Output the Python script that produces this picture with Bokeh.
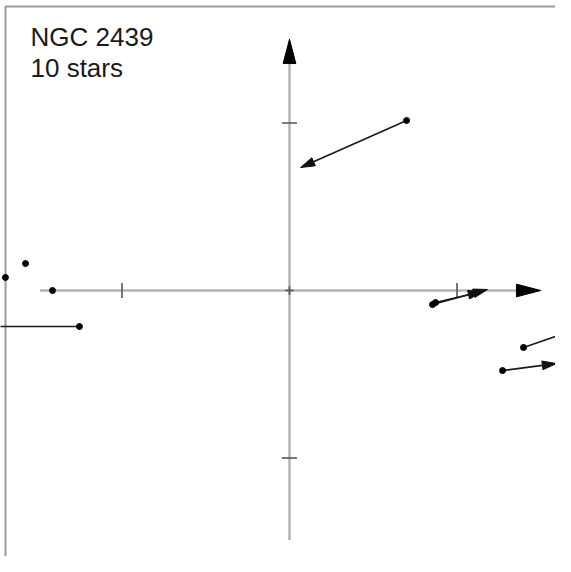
import numpy as np
from bokeh.plotting import figure
from bokeh.models import Range1d, Label
from bokeh.embed import file_html
from bokeh.resources import INLINE

# ---- data ----
title_text = "NGC 2439"
count_text = "10 stars"

# star positions (axis units, ticks at +-1)
star_x = [0.699, -1.696, -1.576, -1.415, -1.254, 0.854, 0.872, 1.397, 1.272]
star_y = [1.015, 0.078, 0.161, 0.000, -0.215, -0.084, -0.072, -0.340, -0.478]
# motion vectors (axis units)
vec_x = [-0.633, 0.0, 0.0, 0.0, -0.750, 0.328, 0.280, 0.310, 0.322]
vec_y = [-0.281, 0.0, 0.0, 0.0, 0.000, 0.090, 0.066, 0.107, 0.042]

tick_vals = [-1, 0, 1]
axis_lo, axis_hi = -1.49, 1.50

# ---- figure ----
unit = 167.5  # pixels per axis unit
cx, cy = 289, 290  # pixel position of the origin
W_PX, H_PX = 555, 556
x0, x1 = (0 - cx) / unit, (W_PX - cx) / unit
y0, y1 = (cy - H_PX) / unit, (cy - 0) / unit

p = figure(width=W_PX, height=H_PX, x_range=Range1d(x0, x1), y_range=Range1d(y0, y1),
           output_backend="svg", toolbar_location=None, min_border=0,
           x_axis_type=None, y_axis_type=None)
p.grid.visible = False
p.outline_line_color = None
p.background_fill_color = "white"

# frame (left and top edges visible)
fx, fy = (5 - cx) / unit, (cy - 6) / unit
p.line([fx, fx, x1], [y0, fy, fy], line_color="#9a9a9a", line_width=2)

# coordinate axes
axis_col = "#b4b4b4"
head_len, head_half = 0.145, 0.038
p.line([axis_lo, axis_hi - head_len], [0, 0], line_color=axis_col, line_width=2.5)
p.line([0, 0], [axis_lo, axis_hi - head_len], line_color=axis_col, line_width=2.5)
p.patches(
    [[axis_hi, axis_hi - head_len, axis_hi - head_len],
     [-head_half, head_half, 0]],
    [[0, head_half, -head_half],
     [axis_hi - head_len, axis_hi - head_len, axis_hi]],
    fill_color="black", line_color="black", line_width=1)

# tick marks
tk = 0.045
for t in tick_vals:
    h = tk if t != 0 else 0.025
    p.line([t, t], [-h, h], line_color="#555555", line_width=1.6)
    p.line([-h, h], [t, t], line_color="#555555", line_width=1.6)

# motion vectors
sx = np.array(star_x); sy = np.array(star_y)
vx = np.array(vec_x); vy = np.array(vec_y)
ex, ey = sx + vx, sy + vy
length = np.hypot(vx, vy)
moving = length > 0
L, W = 0.085, 0.026
xs_lines, ys_lines, hx, hy = [], [], [], []
for i in np.where(moving)[0]:
    ux, uy = vx[i] / length[i], vy[i] / length[i]
    nx, ny = -uy, ux
    bx, by = ex[i] - L * ux, ey[i] - L * uy
    xs_lines.append([sx[i], bx]); ys_lines.append([sy[i], by])
    hx.append([ex[i], bx + W * nx, bx - W * nx])
    hy.append([ey[i], by + W * ny, by - W * ny])
p.multi_line(xs_lines, ys_lines, line_color="#1a1a1a", line_width=1.6)
p.patches(hx, hy, fill_color="#111111", line_color="#111111", line_width=1)

# stars
p.scatter(star_x, star_y, size=6, fill_color="black", line_color="black")

# labels
p.add_layout(Label(x=(30 - cx) / unit, y=(cy - 36) / unit, text=title_text,
                   text_font="Liberation Sans", text_font_size="26px",
                   text_color="#1a1a1a", text_baseline="alphabetic"))
p.add_layout(Label(x=(30 - cx) / unit, y=(cy - 67) / unit, text=count_text,
                   text_font="Liberation Sans", text_font_size="26px",
                   text_color="#1a1a1a", text_baseline="alphabetic"))

open("out.html", "w").write(file_html(p, INLINE))
